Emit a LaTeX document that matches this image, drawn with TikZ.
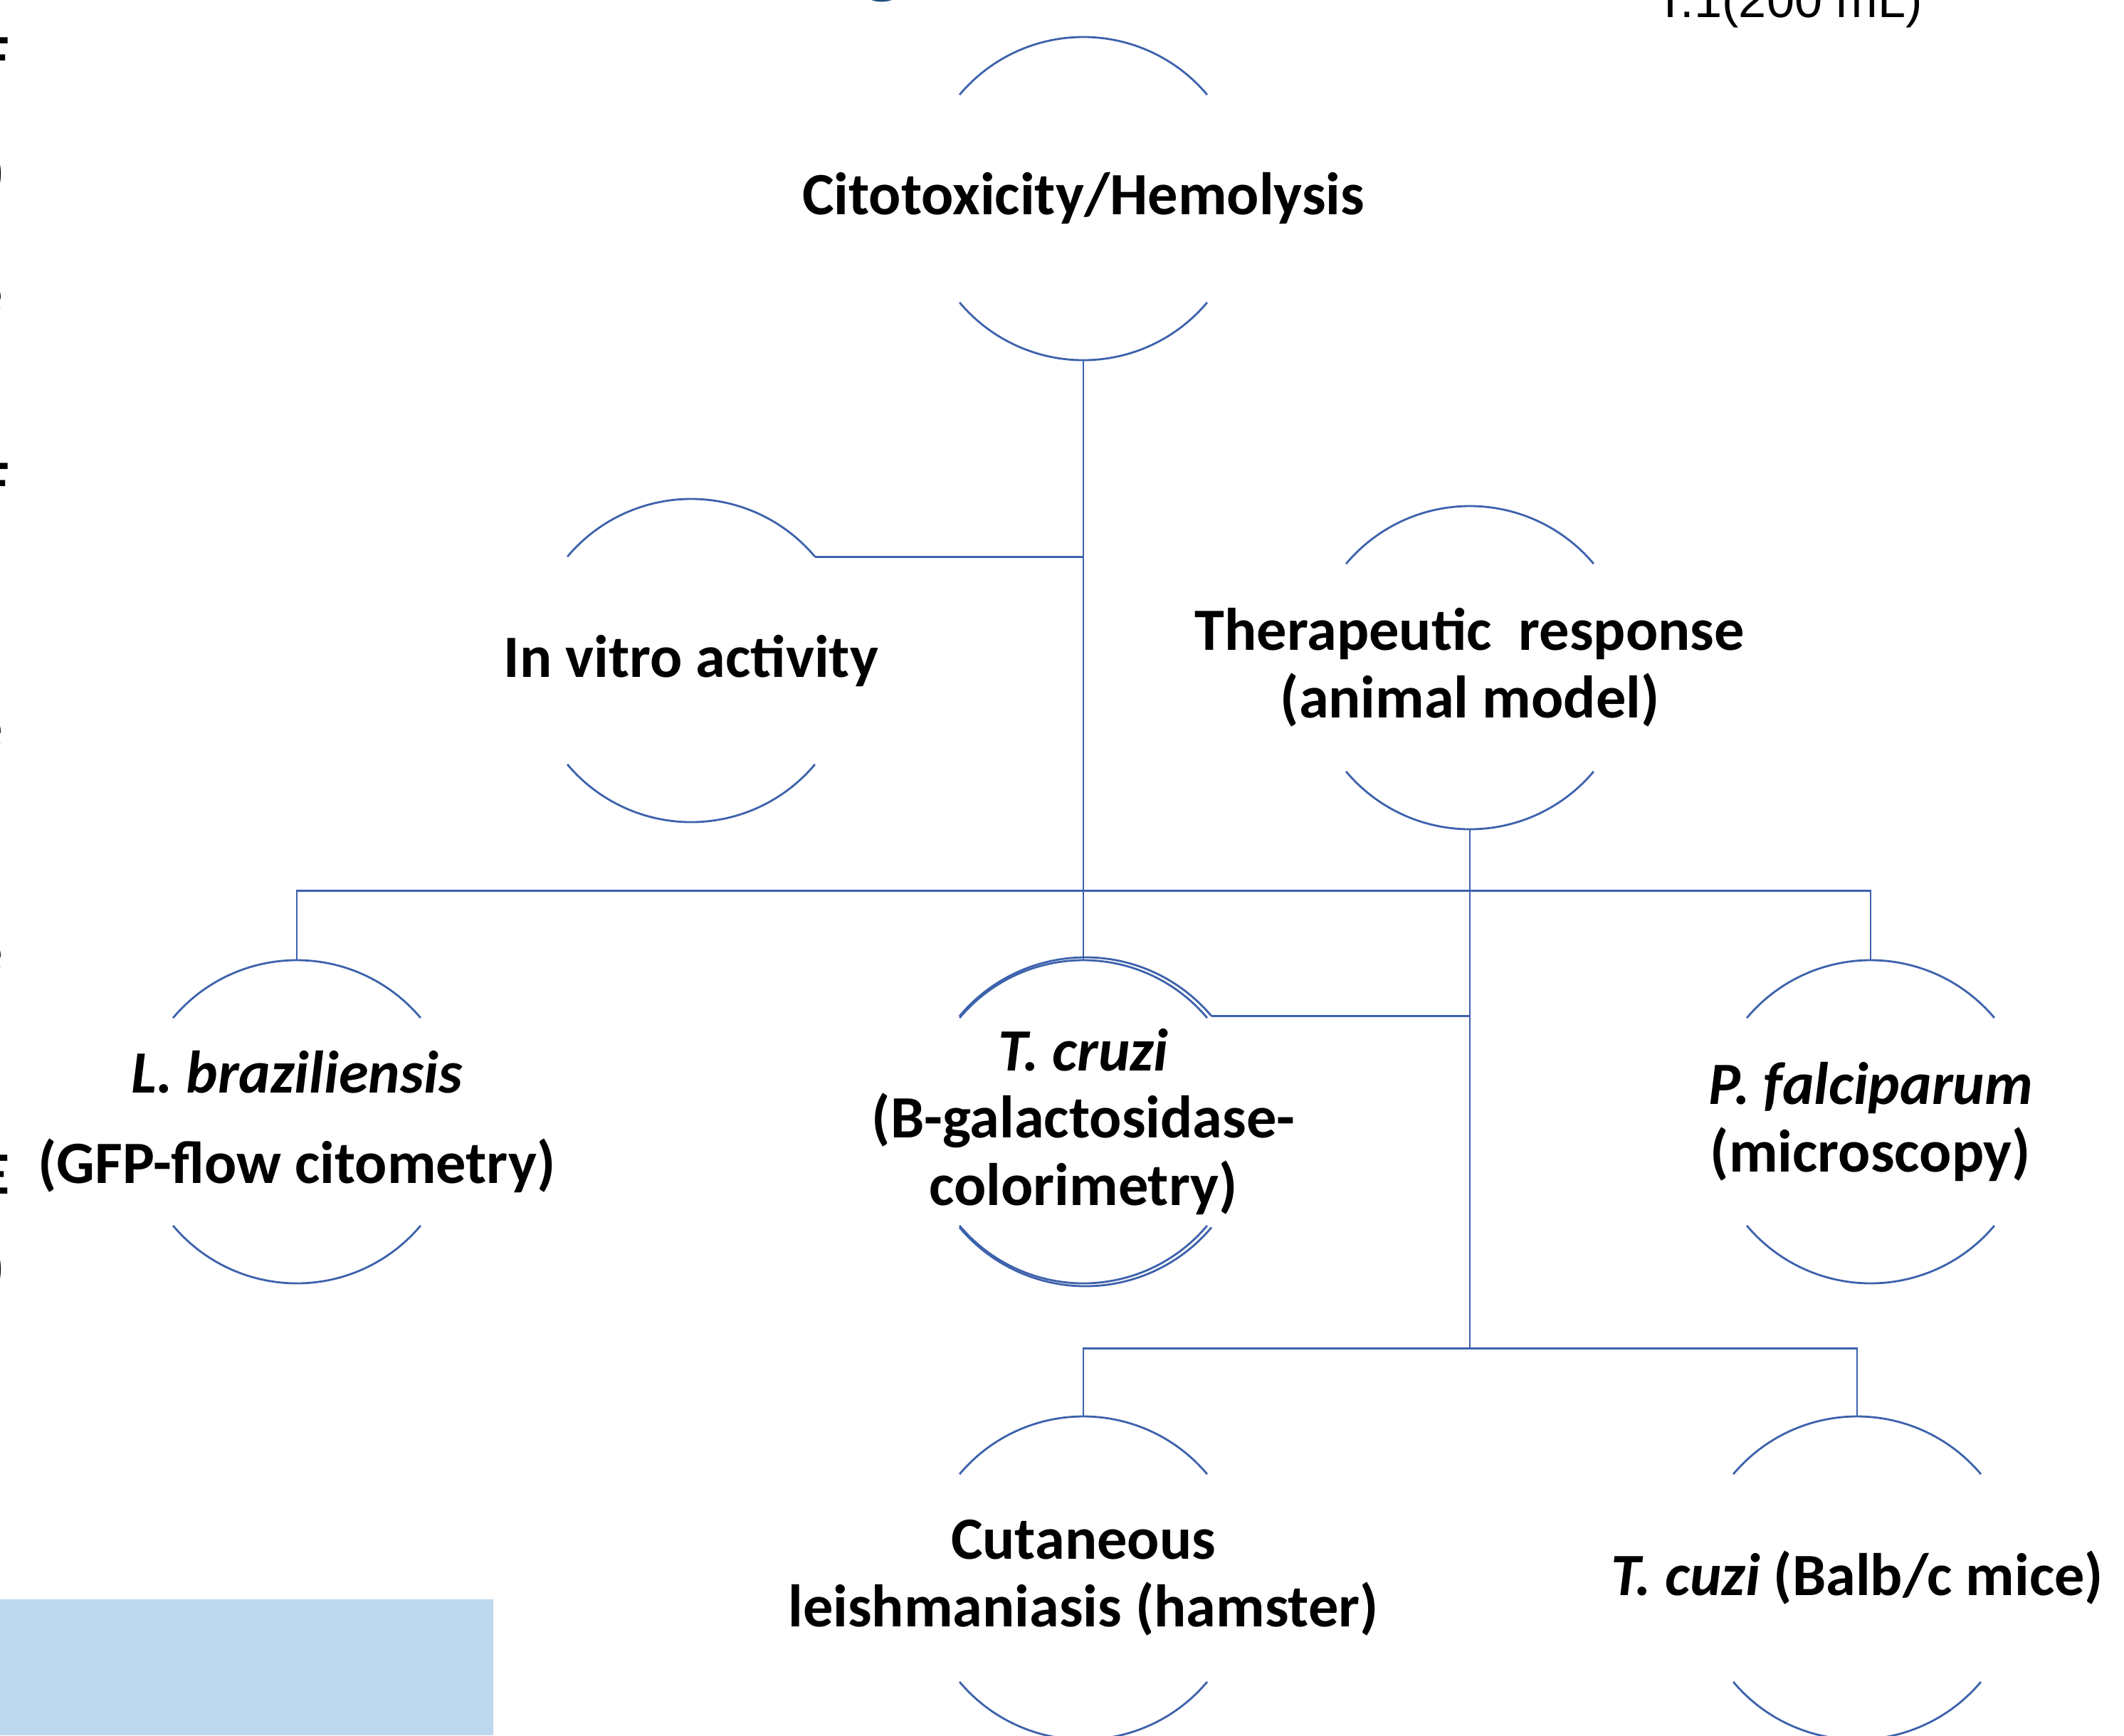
\documentclass[tikz,border=0pt]{standalone}
\usepackage{fontspec}
\setmainfont{Carlito}
\newfontfamily\arialfont{Liberation Sans}
\usetikzlibrary{positioning}
\definecolor{linkblue}{RGB}{61,98,172}
\definecolor{titleblue}{RGB}{31,78,121}
\definecolor{boxblue}{RGB}{189,215,238}

\begin{document}
\begin{tikzpicture}[
        node distance=1cm, on grid,
        every node/.style={font=\fontsize{24}{27}\selectfont\bfseries},
        bubble/.style={rectangle, inner sep=0pt, minimum size=4.54cm, align=center},
        link/.style={draw=linkblue, line width=0.8pt},
        frag/.style={anchor=east, inner sep=0pt},
        ]
        \useasboundingbox (0,0) rectangle (29.84,-24.38);
        \clip (0,0) rectangle (29.84,-24.38);
        \fill[boxblue] (0,-22.47) rectangle (6.93,-24.38);

        % cut-off bits of the slide around the chart
        \foreach \x/\y/\c [count=\i] in {0.14/0.80/F, 0.07/2.45/), 0.05/4.20/e, 0.14/6.78/F,
            0.05/10.30/e, 0.05/13.45/e, 0.14/16.50/E, 0.07/17.84/)}
          \node[frag] (frag\i) at (\x,-\y) {\c};
        \node[font=\fontsize{36}{40}\selectfont\bfseries, text=titleblue, anchor=base, inner sep=0pt]
          (title-g) at (12.40,0.19) {g};
        \node[font=\arialfont\fontsize{20}{24}\selectfont, anchor=base west, inner sep=0pt]
          (volume) at (23.25,-0.24) {T.1(200 mL)};

        \node[bubble] (citotox) at (15.22,-2.79) {Citotoxicity/Hemolysis};
        \node[bubble] (invitro) [below left=6.49cm and 5.51cm of citotox] {In vitro activity};
        \node[bubble] (therapy) [below right=6.59cm and 5.43cm of citotox] {Therapeutic~ response\\(animal model)};
        \node[bubble] (tcruzi) [below=12.97cm of citotox] {\textit{T. cruzi}\\(B-galactosidase-\\colorimetry)};
        \node[bubble] (lbraz) [left=11.05cm of tcruzi] {\textit{L. braziliensis}\\[9pt](GFP-flow citometry)};
        \node[bubble] (pfalc) [right=11.06cm of tcruzi] {\textit{P. falciparum}\\(microscopy)};
        \node[bubble] (cutan) [below=6.41cm of tcruzi] {Cutaneous\\leishmaniasis (hamster)};
        \node[bubble] (tcuzi) [right=10.87cm of cutan] {\textit{T. cuzi} (Balb/c mice)};

        % top and bottom arcs of every circle
        \foreach \n in {citotox, invitro, therapy, tcruzi, lbraz, pfalc, cutan, tcuzi}
          \draw[link] (\n.center) ++(40:2.27cm) arc[start angle=40, end angle=140, radius=2.27cm]
            (\n.center) ++(220:2.27cm) arc[start angle=220, end angle=320, radius=2.27cm];
        % second outline of the T. cruzi circle
        \draw[link] (tcruzi.center) ++(0.03,0) ++(40:2.31cm) arc[start angle=40, end angle=140, radius=2.31cm]
          (tcruzi.center) ++(0.03,0) ++(220:2.31cm) arc[start angle=220, end angle=320, radius=2.31cm];

        \path (invitro.center) ++(40:2.27cm) coordinate (invitro-end)
          (tcruzi.center) ++(0.03,0) ++(40:2.31cm) coordinate (tcruzi-end)
          (lbraz.north) ++(0,0.97) coordinate (assay-bus)
          (cutan.north) ++(0,0.95) coordinate (model-bus);

        \path[link] (citotox.south) -- (tcruzi.north)
          (invitro-end) -- (invitro-end -| citotox.south)
          (lbraz.north) -- (assay-bus) -| (pfalc.north)
          (therapy.south) -- (therapy.south |- model-bus)
          (tcruzi-end) -- (tcruzi-end -| therapy.south)
          (cutan.north) -- (model-bus) -| (tcuzi.north);
\end{tikzpicture}
\end{document}
